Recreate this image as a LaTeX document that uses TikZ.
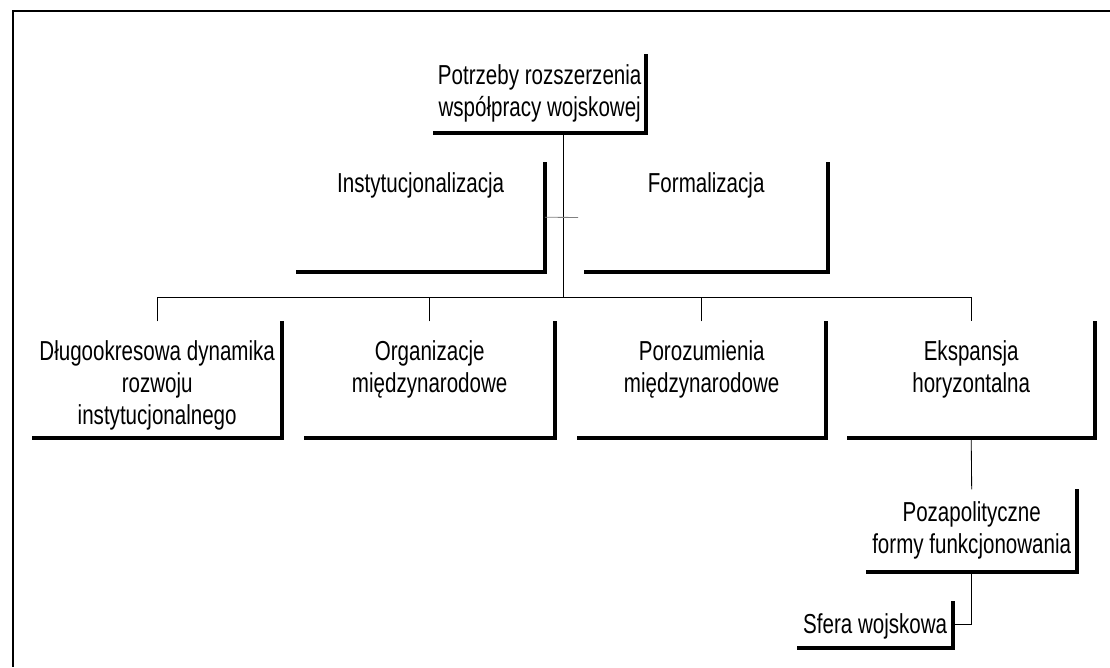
\documentclass[tikz,border=0pt]{standalone}
\usepackage{fontspec}
\setmainfont[FakeStretch=0.75]{Liberation Sans}
\usetikzlibrary{positioning}

\tikzset{
  openbox/.style={rectangle, inner sep=0pt, anchor=south east,
    append after command={(\tikzlastnode.north east) edge[boxedge] (\tikzlastnode.south west)}},
  boxedge/.style={draw, line width=2.4pt, line join=miter, to path={|- (\tikztotarget)}},
  boxtext/.style={inner sep=0pt, align=center, font=\fontsize{19.5}{22.8}\selectfont},
  treeline/.style={draw, line width=0.6pt},
}

\begin{document}
\begin{tikzpicture}[x=0.025cm, y=-0.025cm]
  \useasboundingbox (0,0) rectangle (1110,667);
  % outer frame (top and left only)
  \draw[line width=1.5pt] (1110,11) -- (13,11) -- (13,667);

  % boxes
  \node[openbox, minimum width=5.3cm, minimum height=1.95cm] (top) at (646,133) {};
  \node[openbox, minimum width=6.2cm, minimum height=2.725cm] (inst) at (545,272) {};
  \node[openbox, minimum width=6.075cm, minimum height=2.725cm] (form) at (828,272) {};
  \node[openbox, minimum width=6.225cm, minimum height=2.9cm] (b1) at (282,438) {};
  \node[openbox, minimum width=6.25cm, minimum height=2.9cm] (b2) at (555,438) {};
  \node[openbox, minimum width=6.2cm, minimum height=2.9cm] (b3) at (826,438) {};
  \node[openbox, minimum width=6.175cm, minimum height=2.9cm] (b4) at (1095,438) {};
  \node[openbox, minimum width=5.25cm, minimum height=2.05cm] (poza) at (1077,572) {};
  \node[openbox, minimum width=3.875cm, minimum height=1.15cm] (sfera) at (953,648) {};

  % texts
  \node[boxtext, below=0.25cm of top.north] (toptext) {Potrzeby rozszerzenia\\współpracy wojskowej};
  \node[boxtext, below=0.25cm of inst.north] (insttext) {Instytucjonalizacja};
  \node[boxtext, below=0.25cm of form.north] (formtext) {Formalizacja};
  \node[boxtext, below=0.48cm of b1.north] (b1text) {Długookresowa dynamika\\rozwoju\\instytucjonalnego};
  \node[boxtext, below=0.48cm of b2.north] (b2text) {Organizacje\\międzynarodowe};
  \node[boxtext, below=0.48cm of b3.north] (b3text) {Porozumienia\\międzynarodowe};
  \node[boxtext, below=0.48cm of b4.north] (b4text) {Ekspansja\\horyzontalna};
  \node[boxtext, below=0.3cm of poza.north] (pozatext) {Pozapolityczne\\formy funkcjonowania};
  \node[boxtext, below=0.3cm of sfera.north] (sferatext) {Sfera wojskowa};

  % connectors
  \coordinate (bus) at (563,297);
  \coordinate (tickend) at (578,217.5);
  \draw[treeline] (top.south -| bus) -- (bus);
  \draw[treeline, gray] (inst.east) -- (tickend);
  \draw[treeline] (b1.north) |- (b4.north |- bus) -- (b4.north);
  \foreach \n in {b2,b3}
    \draw[treeline] (\n.north) -- (\n.north |- bus);
  \draw[treeline] (b4.south) -- (poza.north);
  \draw[treeline] (poza.south) |- (sfera.east);
\end{tikzpicture}
\end{document}
